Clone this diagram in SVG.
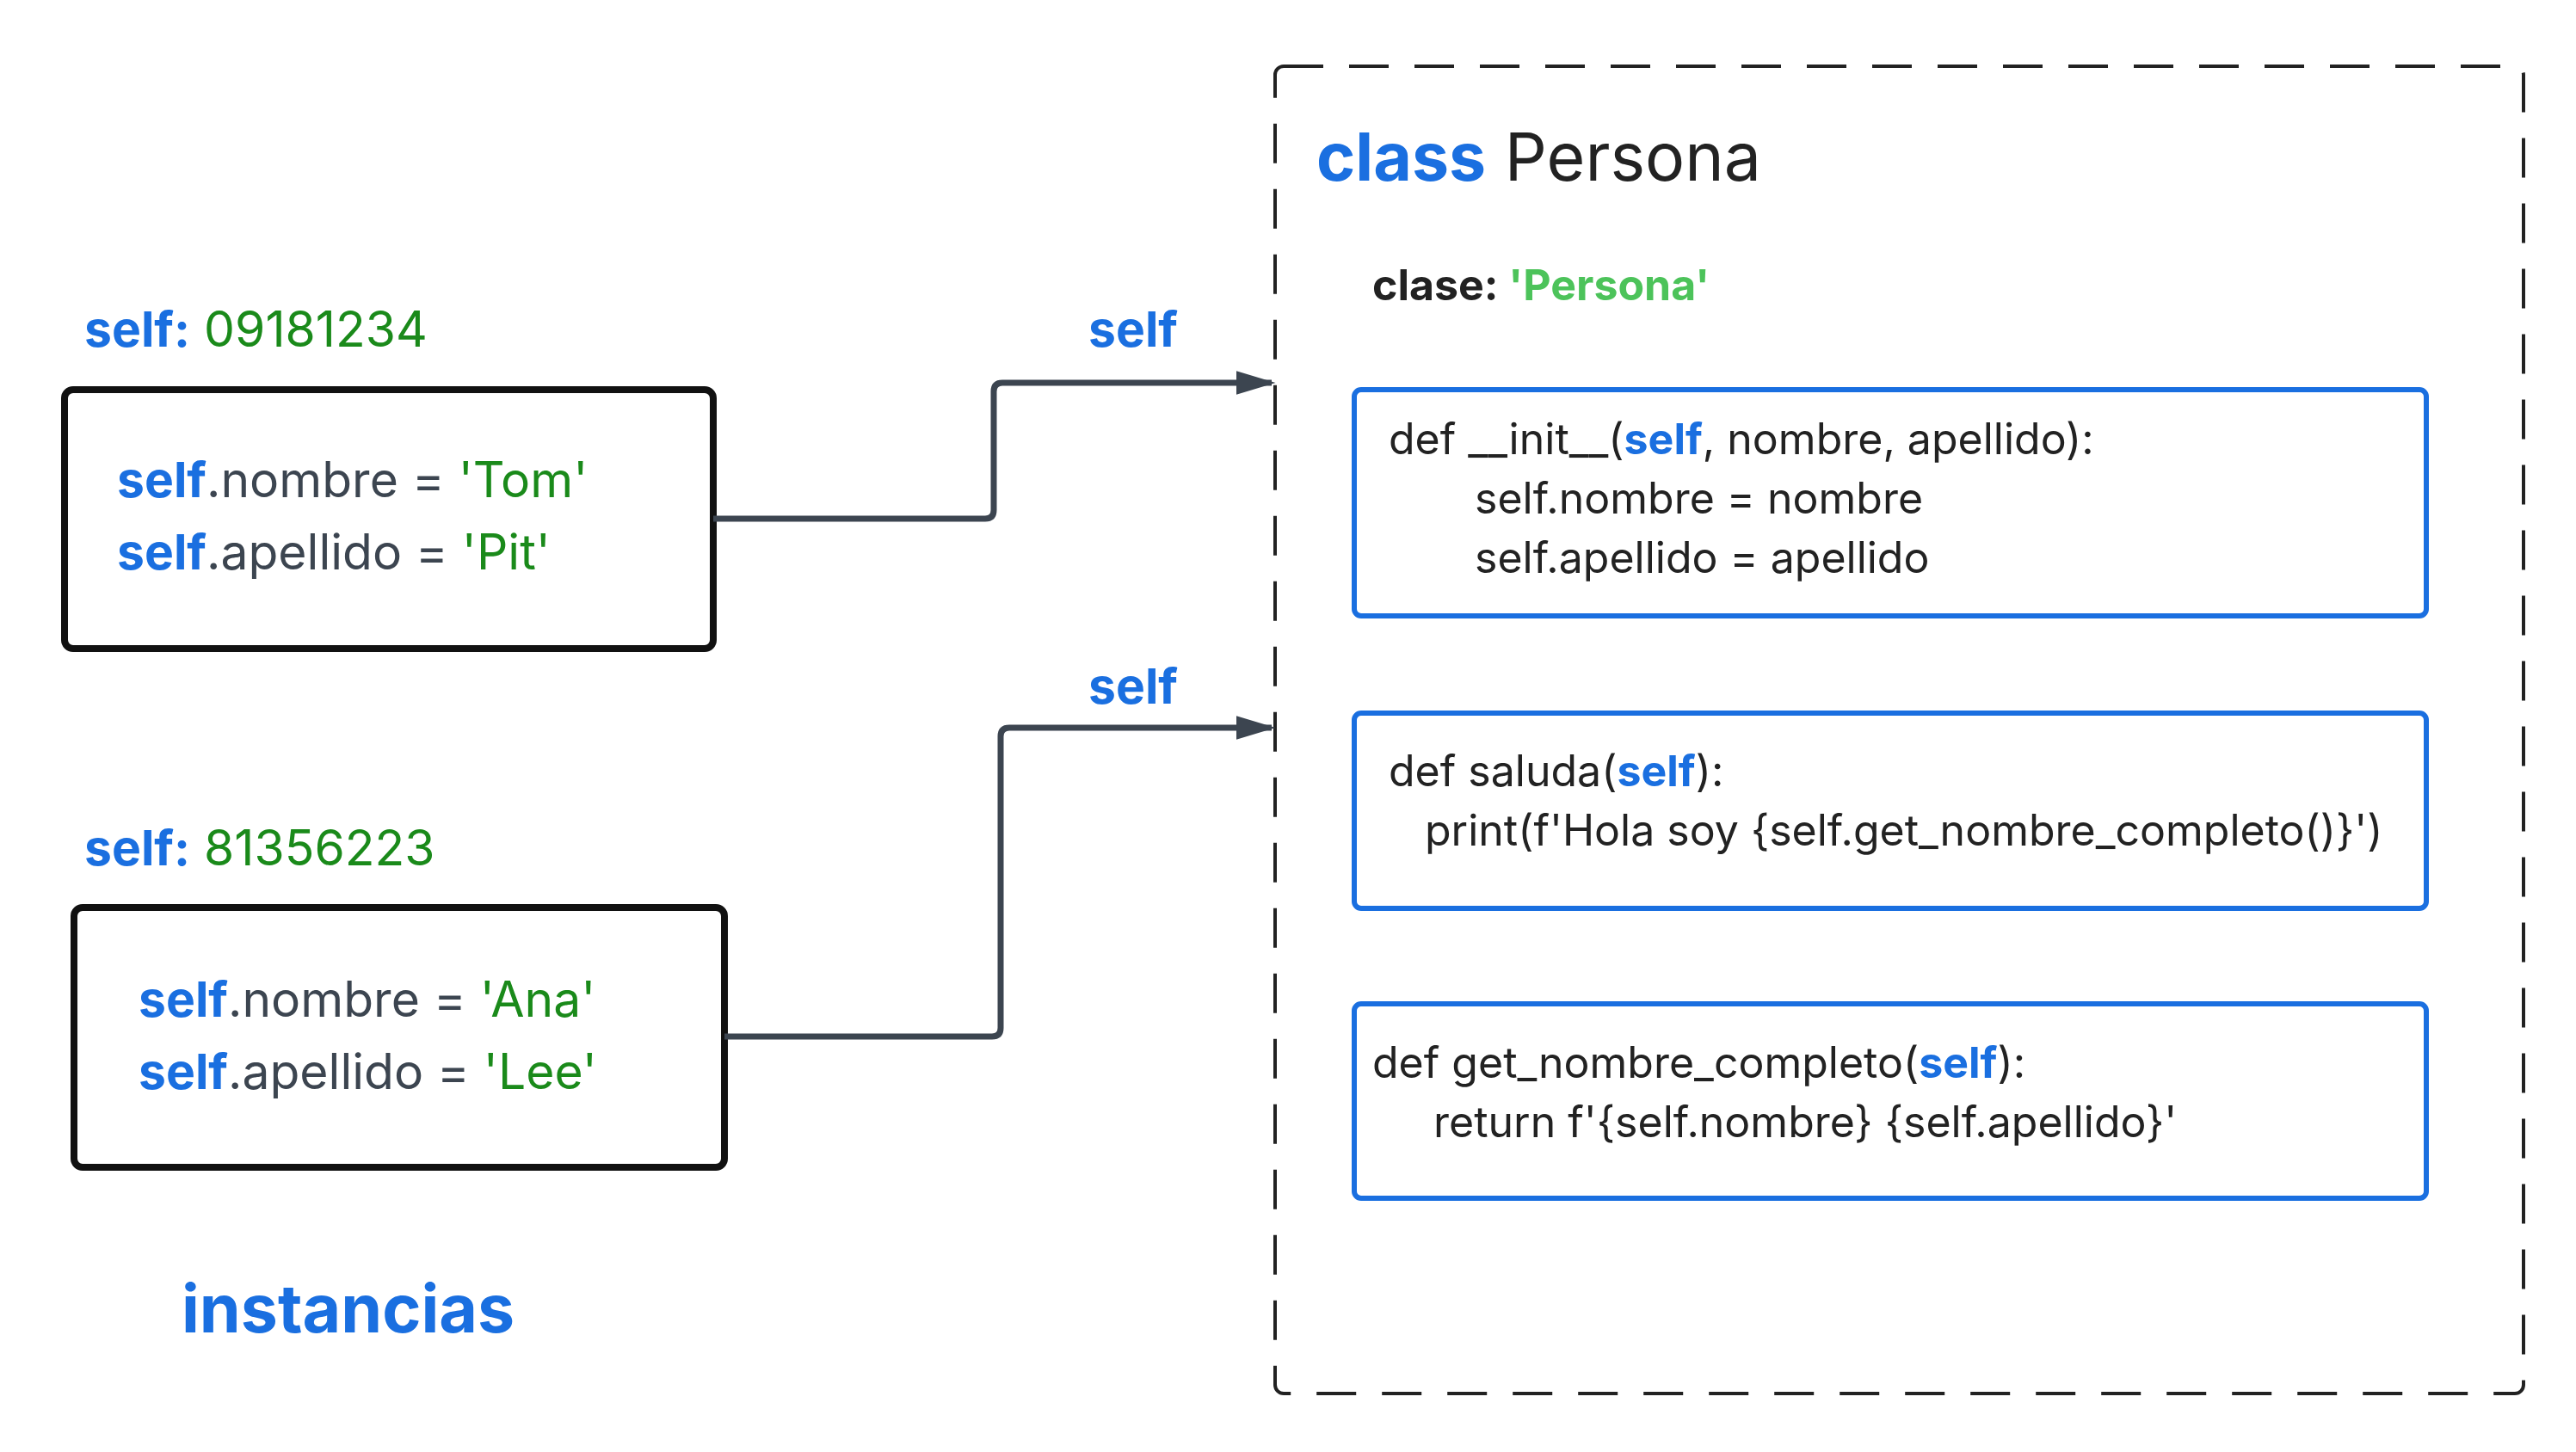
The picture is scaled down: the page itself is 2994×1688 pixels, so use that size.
<svg xmlns="http://www.w3.org/2000/svg" width="2994" height="1688" viewBox="0 0 2994 1688">
<style>
text{font-family:Inter,"Noto Sans",sans-serif;fill:#222}
.b{fill:#1a6fe0;font-weight:700}
.g{fill:#1a8a1a}
.lg{fill:#4cc35a;font-weight:700}
.code{font-size:50px}
.inst{font-size:57px;fill:#3c4550}
.ibox{fill:#fff;stroke:#111;stroke-width:8}
.mbox{fill:#fff;stroke:#1a6fe0;stroke-width:6}
.conn{fill:none;stroke:#3c4550;stroke-width:7}
</style>
<defs><marker id="ah" markerWidth="10" markerHeight="8" refX="9" refY="4" orient="auto" markerUnits="userSpaceOnUse" viewBox="0 0 10 8"><path d="M0,0L10,4L0,8z" fill="#3c4550"/></marker>
<marker id="a" viewBox="0 0 10 10" refX="9" refY="5" markerWidth="46" markerHeight="46" markerUnits="userSpaceOnUse" orient="auto"><path d="M0,2L10,5L0,8z" fill="#3c4550"/></marker></defs>
<g id="clase">
<rect x="1482" y="77" width="1451" height="1543" rx="10" fill="none" stroke="#222" stroke-width="4" stroke-dasharray="46,30"/>
<text x="1530" y="210" font-size="77"><tspan class="b">class</tspan> Persona</text>
<text x="1595" y="349" font-size="50" font-weight="700">clase:  <tspan class="lg">'Persona'</tspan></text>
</g>
<g id="init"><rect class="mbox" x="1574" y="453" width="1246" height="263" rx="8"/>
<text class="code" x="1614" y="528">def __init__(<tspan class="b">self</tspan>, nombre, apellido):</text>
<text class="code" x="1714" y="597">self.nombre = nombre</text>
<text class="code" x="1714" y="666">self.apellido = apellido</text></g>
<g id="saluda"><rect class="mbox" x="1574" y="829" width="1246" height="227" rx="8"/>
<text class="code" x="1614" y="914">def saluda(<tspan class="b">self</tspan>):</text>
<text class="code" x="1656" y="983">print(f'Hola soy {self.get_nombre_completo()}')</text></g>
<g id="getnc"><rect class="mbox" x="1574" y="1167" width="1246" height="226" rx="8"/>
<text class="code" x="1595" y="1253">def get_nombre_completo(<tspan class="b">self</tspan>):</text>
<text class="code" x="1666" y="1322">return f'{self.nombre} {self.apellido}'</text></g>
<g id="tom">
<text x="98" y="403" font-size="57"><tspan class="b">self:</tspan> <tspan class="g">09181234</tspan></text>
<rect class="ibox" x="75" y="453" width="754" height="301" rx="10"/>
<text class="inst" x="136" y="578"><tspan class="b">self</tspan>.nombre = <tspan class="g">'Tom'</tspan></text>
<text class="inst" x="136" y="662"><tspan class="b">self</tspan>.apellido = <tspan class="g">'Pit'</tspan></text></g>
<g id="ana">
<text x="98" y="1006" font-size="57"><tspan class="b">self:</tspan> <tspan class="g">81356223</tspan></text>
<rect class="ibox" x="86" y="1055" width="756" height="302" rx="10"/>
<text class="inst" x="161" y="1182"><tspan class="b">self</tspan>.nombre = <tspan class="g">'Ana'</tspan></text>
<text class="inst" x="161" y="1266"><tspan class="b">self</tspan>.apellido = <tspan class="g">'Lee'</tspan></text></g>
<text x="211" y="1549" font-size="77" class="b">instancias</text>
<g id="connectors">
<path class="conn" marker-end="url(#a)" d="M829,603H1145Q1155,603 1155,593V455Q1155,445 1165,445H1478"/>
<path class="conn" marker-end="url(#a)" d="M842,1205H1153Q1163,1205 1163,1195V856Q1163,846 1173,846H1478"/>
<text x="1265" y="403" font-size="57" class="b">self</text>
<text x="1265" y="818" font-size="57" class="b">self</text>
</g>
</svg>
